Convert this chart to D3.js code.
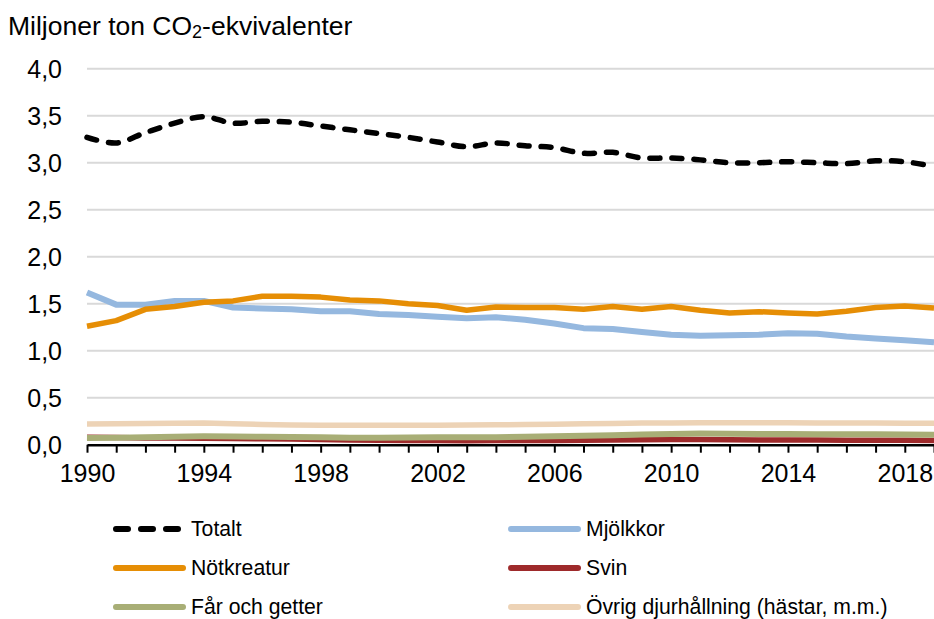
<!DOCTYPE html>
<html>
<head>
<meta charset="utf-8">
<script src="https://cdn.jsdelivr.net/npm/d3@7/dist/d3.min.js"></script>
<style>
  html, body { margin: 0; padding: 0; background: #fff; }
  svg { display: block; font-family: "Liberation Sans", Arial, sans-serif; }
</style>
</head>
<body>
<svg id="chart" width="934" height="619"></svg>
<script>
// Years 1990–2019
const years = d3.range(1990, 2020);

// Emissions, million tonnes CO2-eq
const totalt = [3.27, 3.21, 3.32, 3.42, 3.49, 3.42, 3.44, 3.43, 3.39, 3.35,
                3.31, 3.27, 3.22, 3.17, 3.21, 3.18, 3.16, 3.10, 3.11, 3.05,
                3.05, 3.03, 3.00, 3.00, 3.01, 3.00, 2.99, 3.02, 3.01, 2.96];
const mjolkkor = [1.62, 1.49, 1.49, 1.53, 1.53, 1.46, 1.45, 1.44, 1.42, 1.42,
                  1.39, 1.38, 1.36, 1.345, 1.355, 1.33, 1.29, 1.24, 1.23, 1.20,
                  1.17, 1.16, 1.165, 1.17, 1.185, 1.18, 1.15, 1.13, 1.11, 1.09];
const notkreatur = [1.26, 1.32, 1.44, 1.47, 1.515, 1.53, 1.58, 1.58, 1.57, 1.54,
                    1.53, 1.50, 1.48, 1.43, 1.465, 1.46, 1.46, 1.44, 1.47, 1.44,
                    1.47, 1.43, 1.40, 1.415, 1.40, 1.39, 1.42, 1.46, 1.475, 1.455];
const svin = [0.080, 0.076, 0.072, 0.070, 0.068, 0.066, 0.064, 0.060, 0.056, 0.050,
              0.047, 0.045, 0.044, 0.043, 0.044, 0.045, 0.046, 0.048, 0.050, 0.053,
              0.055, 0.054, 0.052, 0.051, 0.050, 0.049, 0.048, 0.048, 0.047, 0.046];
const farGetter = [0.071, 0.074, 0.080, 0.085, 0.089, 0.087, 0.085, 0.082, 0.078, 0.075,
                   0.075, 0.076, 0.078, 0.080, 0.080, 0.085, 0.090, 0.095, 0.100, 0.108,
                   0.115, 0.118, 0.116, 0.115, 0.114, 0.112, 0.110, 0.110, 0.108, 0.106];
const ovrig = [0.220, 0.222, 0.225, 0.228, 0.230, 0.222, 0.215, 0.210, 0.208, 0.206,
               0.206, 0.207, 0.208, 0.210, 0.212, 0.214, 0.218, 0.222, 0.226, 0.230,
               0.232, 0.234, 0.234, 0.234, 0.233, 0.232, 0.231, 0.230, 0.229, 0.228];

const yTicks = [0, 0.5, 1, 1.5, 2, 2.5, 3, 3.5, 4];
const xLabelYears = [1990, 1994, 1998, 2002, 2006, 2010, 2014, 2018];

const series = [
  { name: "Totalt", values: totalt, color: "#000000", dashed: true, width: 5.5 },
  { name: "Mjölkkor", values: mjolkkor, color: "#95B8DF", width: 6 },
  { name: "Nötkreatur", values: notkreatur, color: "#E68E05", width: 5.5 },
  { name: "Svin", values: svin, color: "#9E2A2B", width: 5.5 },
  { name: "Får och getter", values: farGetter, color: "#A8AE76", width: 6 },
  { name: "Övrig djurhållning (hästar, m.m.)", values: ovrig, color: "#EDD3B6", width: 5.5 }
];

const svg = d3.select("#chart");
const x = d3.scaleLinear().domain([1990, 2019]).range([87, 934]);
const y = d3.scaleLinear().domain([0, 4]).range([444.7, 68.7]);
const fmt = v => d3.format(".1f")(v).replace(".", ",");

// Gridlines
svg.append("g")
  .selectAll("line")
  .data(yTicks.filter(d => d > 0))
  .join("line")
  .attr("x1", x(1990)).attr("x2", x(2019))
  .attr("y1", d => y(d)).attr("y2", d => y(d))
  .attr("stroke", "#D9D9D9").attr("stroke-width", 2);

// Y tick labels
svg.append("g")
  .selectAll("text")
  .data(yTicks)
  .join("text")
  .attr("x", 62).attr("y", d => y(d))
  .attr("dy", "0.36em")
  .attr("text-anchor", "end")
  .attr("font-size", 25)
  .attr("fill", "#000")
  .text(fmt);

// Title
const title = svg.append("text")
  .attr("x", 8).attr("y", 35)
  .attr("font-size", 26.5)
  .attr("fill", "#000");
title.append("tspan").text("Miljoner ton CO");
title.append("tspan").attr("font-size", 18).attr("dy", 3).text("2");
title.append("tspan").attr("dy", -3).text("-ekvivalenter");

// Lines
const line = d3.line().x((d, i) => x(years[i])).y(d => y(d));
const smooth = d3.line().x((d, i) => x(years[i])).y(d => y(d)).curve(d3.curveCatmullRom.alpha(0.5));

const plot = svg.append("g");
series.forEach(s => {
  plot.append("path")
    .datum(s.values)
    .attr("d", s.dashed ? smooth : line)
    .attr("fill", "none")
    .attr("stroke", s.color)
    .attr("stroke-width", s.width)
    .attr("stroke-linejoin", "round")
    .attr("stroke-linecap", s.dashed ? "round" : "butt")
    .attr("stroke-dasharray", s.dashed ? "10,12" : null);
});

// X axis
const xAxis = d3.axisBottom(x)
  .tickValues(years)
  .tickSize(8)
  .tickSizeOuter(0)
  .tickPadding(12)
  .tickFormat(d => xLabelYears.includes(d) ? String(d) : "");
const gx = svg.append("g")
  .attr("transform", `translate(0,${y(0)})`)
  .call(xAxis);
gx.select(".domain").attr("stroke", "#000").attr("stroke-width", 2.5);
gx.selectAll(".tick line").attr("stroke", "#000").attr("stroke-width", 2);
gx.selectAll(".tick text")
  .attr("font-size", 25)
  .attr("font-family", "Liberation Sans, Arial, sans-serif")
  .attr("fill", "#000");

// Legend
const legendPos = [
  { col: 0, row: 0 }, { col: 1, row: 0 },
  { col: 0, row: 1 }, { col: 1, row: 1 },
  { col: 0, row: 2 }, { col: 1, row: 2 }
];
const colX = [113, 508];
const rowY = [529, 568, 607];
const legend = svg.append("g");
series.forEach((s, i) => {
  const p = legendPos[i];
  const g = legend.append("g")
    .attr("transform", `translate(${colX[p.col]},${rowY[p.row]})`);
  g.append("line")
    .attr("x1", 3).attr("x2", 70)
    .attr("y1", 0).attr("y2", 0)
    .attr("stroke", s.color)
    .attr("stroke-width", 6)
    .attr("stroke-linecap", "round")
    .attr("stroke-dasharray", s.dashed ? "12,13" : null);
  g.append("text")
    .attr("x", 78).attr("y", 0)
    .attr("dy", "0.35em")
    .attr("font-size", 21.2)
    .attr("fill", "#000")
    .text(s.name);
});
</script>
</body>
</html>
